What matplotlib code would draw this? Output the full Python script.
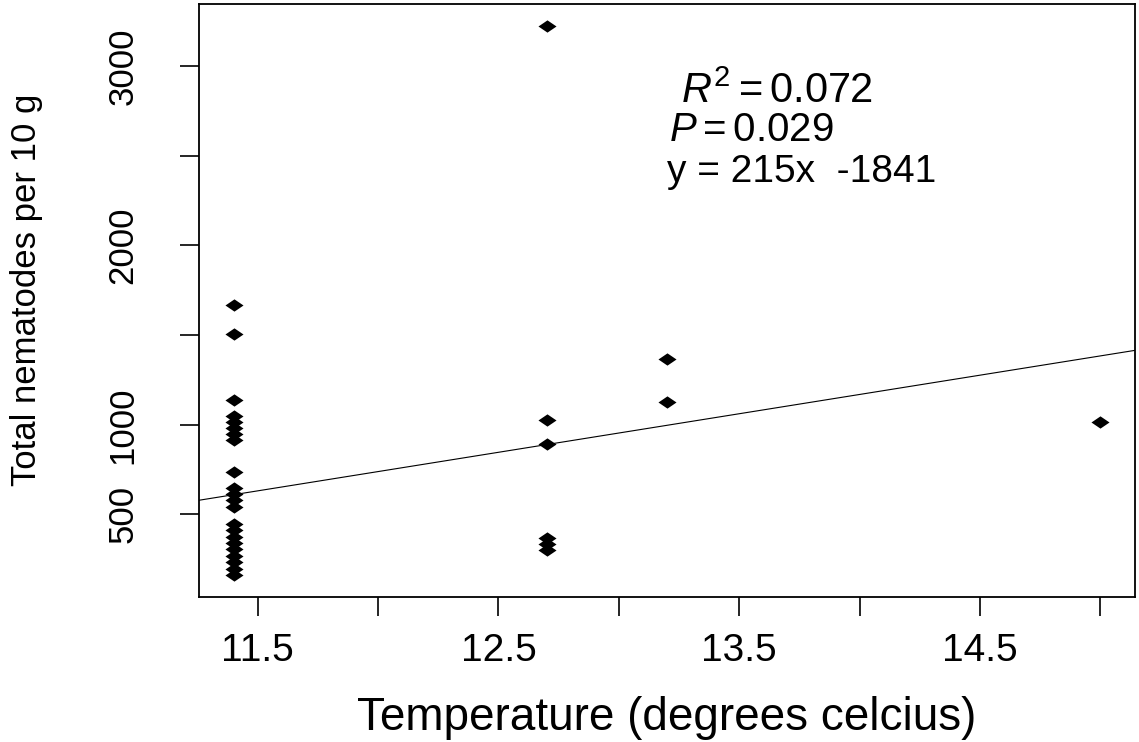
import matplotlib
matplotlib.use("Agg")
import matplotlib.pyplot as plt
import numpy as np

plt.rcParams['font.family'] = ['Liberation Sans', 'DejaVu Sans']
plt.rcParams['mathtext.fontset'] = 'custom'
plt.rcParams['mathtext.rm'] = 'Liberation Sans'
plt.rcParams['mathtext.it'] = 'Liberation Sans:italic'

# temperature groups and nematode counts
temp_a = 11.4
counts_a = [1669, 1507, 1138, 1050, 1017, 983, 950, 916, 735, 648, 613, 578, 542,
            447, 411, 376, 340, 305, 269, 233, 198, 162]
temp_b = 12.7
counts_b = [3224, 1026, 892, 369, 335, 301]
temp_c = 13.2
counts_c = [1367, 1126]
temp_d = 15.0
counts_d = [1015]

slope = 215
intercept = -1841

xticks = [11.5, 12.0, 12.5, 13.0, 13.5, 14.0, 14.5, 15.0]
xticklabels = ['11.5', '', '12.5', '', '13.5', '', '14.5', '']
yticks = [500, 1000, 1500, 2000, 2500, 3000]
yticklabels = ['500', '1000', '', '2000', '', '3000']

ann_r2 = r'$R^2 = 0.072$'
ann_p = r'$P = 0.029$'
ann_eq = 'y = 215x  -1841'

x = np.concatenate([np.full(len(counts_a), temp_a), np.full(len(counts_b), temp_b),
                    np.full(len(counts_c), temp_c), np.full(len(counts_d), temp_d)])
y = np.array(counts_a + counts_b + counts_c + counts_d, dtype=float)

fig = plt.figure(figsize=(11.39, 7.42), dpi=100)
ax = fig.add_axes([199/1139, 1 - 597/742, (1135-199)/1139, (597-4)/742])

diamond = [(-1, 0), (0, 0.68), (1, 0), (0, -0.68), (-1, 0)]
ax.plot(x, y, linestyle='none', marker=diamond, markersize=13,
        color='black', markeredgewidth=0)

xr = x.max() - x.min()
yr = y.max() - y.min()
ax.set_xlim(x.min() - 0.04*xr, x.max() + 0.04*xr)
ax.set_ylim(y.min() - 0.04*yr, y.max() + 0.04*yr)

ax.axline((0, intercept), slope=slope, color='black', linewidth=0.8)

ax.set_xticks(xticks)
ax.set_xticklabels(xticklabels)
ax.set_yticks(yticks)
ax.set_yticklabels(yticklabels, rotation=90, va='center')

ax.tick_params(axis='x', length=14, width=1.2, pad=12, labelsize=28, direction='out')
ax.tick_params(axis='y', length=14, width=1.2, pad=29, labelsize=25, direction='out')
for s in ax.spines.values():
    s.set_linewidth(1.3)

fig.text((199 + 1135) / 2 / 1139, 1 - 718/742, 'Temperature (degrees celcius)',
         fontsize=33, ha='center', va='center')
fig.text(27/1139, 1 - 290/742, 'Total nematodes per 10 g',
         fontsize=25, ha='center', va='center', rotation=90)

ax.text(13.26, 2855, ann_r2, fontsize=30, va='center', ha='left')
ax.text(13.21, 2642, ann_p, fontsize=29, va='center', ha='left')
ax.text(13.20, 2407, ann_eq, fontsize=28, va='center', ha='left')

fig.savefig('out.png', dpi=100)
